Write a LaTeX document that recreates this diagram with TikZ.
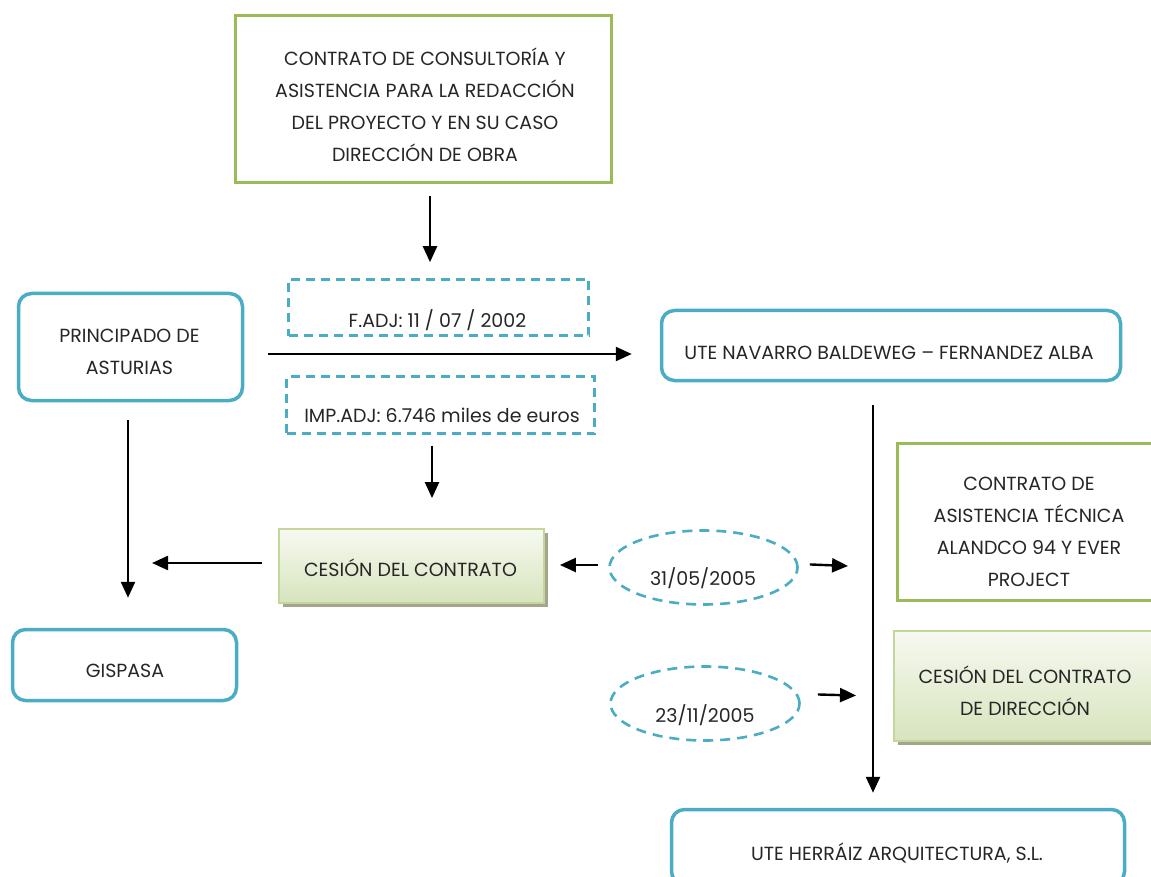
\documentclass[tikz,border=0pt]{standalone}
\usepackage{fontspec}
\setmainfont{Poppins}
\usetikzlibrary{shapes.geometric,arrows.meta,shadows}

\definecolor{lineblue}{HTML}{4BACC6}
\definecolor{linegreen}{HTML}{9BBB59}
\definecolor{paleline}{HTML}{C3D69B}
\definecolor{paletop}{HTML}{F7F9F1}
\definecolor{palebottom}{HTML}{D7E4BD}
\definecolor{shadowgray}{HTML}{A3A68C}
\definecolor{textgray}{HTML}{262626}

\tikzset{
  bluebox/.style={draw=lineblue, line width=3.5pt, rounded corners=13pt, fill=white},
  greenbox/.style={draw=linegreen, line width=3.5pt, fill=white},
  datebox/.style={draw=lineblue, line width=2.6pt, dash pattern=on 9pt off 6pt},
  datering/.style={datebox, ellipse, dash pattern=on 10pt off 7pt},
  cesionbox/.style={draw=paleline, line width=1.8pt, top color=paletop, bottom color=palebottom,
    drop shadow={shadow xshift=3.5pt, shadow yshift=-3.5pt, fill=shadowgray, opacity=1}},
  txt/.style={text=textgray, align=center, font=\fontsize{19}{32}\selectfont},
  arr/.style={-{Triangle[length=16pt,width=14pt]}, line width=2.4pt},
}

\begin{document}
\begin{tikzpicture}[x=1pt, y=-1pt]
  \clip (0,0) rectangle (1151,877);
  \fill[white] (0,0) rectangle (1151,877);

  % boxes
  \node[greenbox, minimum width=376pt, minimum height=167pt] (contrato) at (423.5,99) {};
  \node[datebox, minimum width=300pt, minimum height=56pt] (fadj) at (438.5,307.5) {};
  \node[datebox, minimum width=308pt, minimum height=57pt] (imp) at (440.5,405) {};
  \node[bluebox, minimum width=224pt, minimum height=107pt] (principado) at (130.5,347) {};
  \node[bluebox, minimum width=459pt, minimum height=70pt] (navarro) at (891,345.5) {};
  \node[bluebox, minimum width=224pt, minimum height=71pt] (gispasa) at (124.5,665) {};
  \node[cesionbox, minimum width=265pt, minimum height=74pt] (cesion) at (411.5,566) {};
  \node[datering, minimum width=188pt, minimum height=74pt] (date1) at (703.5,567.5) {};
  \node[greenbox, minimum width=263pt, minimum height=157pt] (asistencia) at (1029,522) {};
  \node[cesionbox, minimum width=262pt, minimum height=110pt] (cesion2) at (1025,686) {};
  \node[datering, minimum width=189pt, minimum height=74pt] (date2) at (705,703.5) {};
  \node[bluebox, minimum width=453pt, minimum height=75pt] (herraiz) at (898,847) {};

  % texts
  \node[txt] (contrato-t) at (425,105) {CONTRATO DE CONSULTORÍA Y\\ASISTENCIA PARA LA REDACCIÓN\\DEL PROYECTO Y EN SU CASO\\DIRECCIÓN DE OBRA};
  \node[txt] (fadj-t) at (437.5,320) {F.ADJ: 11 / 07 / 2002};
  \node[txt] (imp-t) at (442,415) {IMP.ADJ: 6.746 miles de euros};
  \node[txt] (principado-t) at (129.5,352) {PRINCIPADO DE\\ASTURIAS};
  \node[txt] (navarro-t) at (889,353) {UTE NAVARRO BALDEWEG – FERNANDEZ ALBA};
  \node[txt] (gispasa-t) at (125,671) {GISPASA};
  \node[txt] (cesion-t) at (410.5,568) {CESIÓN DEL CONTRATO};
  \node[txt] (date1-t) at (703,578) {31/05/2005};
  \node[txt] (asistencia-t) at (1029,532) {CONTRATO DE\\ASISTENCIA TÉCNICA\\ALANDCO 94 Y EVER\\PROJECT};
  \node[txt] (cesion2-t) at (1025,690.5) {CESIÓN DEL CONTRATO\\DE DIRECCIÓN};
  \node[txt] (date2-t) at (705,715) {23/11/2005};
  \node[txt] (herraiz-t) at (897,853) {UTE HERRÁIZ ARQUITECTURA, S.L.};

  % connectors
  \coordinate (vtop) at ([xshift=-18pt]navarro.south);
  \draw[arr, shorten <=12pt, shorten >=16pt] ([xshift=6.5pt]contrato.south) -- ([xshift=6.5pt]contrato.south |- fadj.north);
  \draw[arr, shorten <=24pt, shorten >=28pt] ([yshift=-7pt]principado.east) -- ([yshift=-7pt]principado.east -| navarro.west);
  \draw[arr, shorten <=11pt, shorten >=30pt] ([xshift=-8.5pt]imp.south) -- ([xshift=-8.5pt]imp.south |- cesion.north);
  \draw[arr, shorten <=18pt, shorten >=30pt] ([xshift=-2.5pt]principado.south) -- ([xshift=-2.5pt]principado.south |- gispasa.north);
  \draw[arr, shorten <=16pt, shorten >=24pt] ([yshift=3pt]cesion.west) -- ([xshift=-2.5pt,yshift=3pt]principado.south |- cesion.west);
  \draw[arr, shorten <=10pt, shorten >=15pt] ([yshift=2.5pt]date1.west) -- ([yshift=2.5pt]date1.west -| cesion.east);
  \draw[arr, shorten <=11pt, shorten >=25pt] ([yshift=3.5pt]date1.east) -- ([yshift=0.5pt]date1.east -| vtop);
  \draw[arr, shorten <=17pt, shorten >=17pt] ([yshift=9.5pt]date2.east) -- ([yshift=7.5pt]date2.east -| vtop);
  \draw[arr, shorten <=23pt, shorten >=15pt] (vtop) -- (vtop |- herraiz.north);
\end{tikzpicture}
\end{document}
